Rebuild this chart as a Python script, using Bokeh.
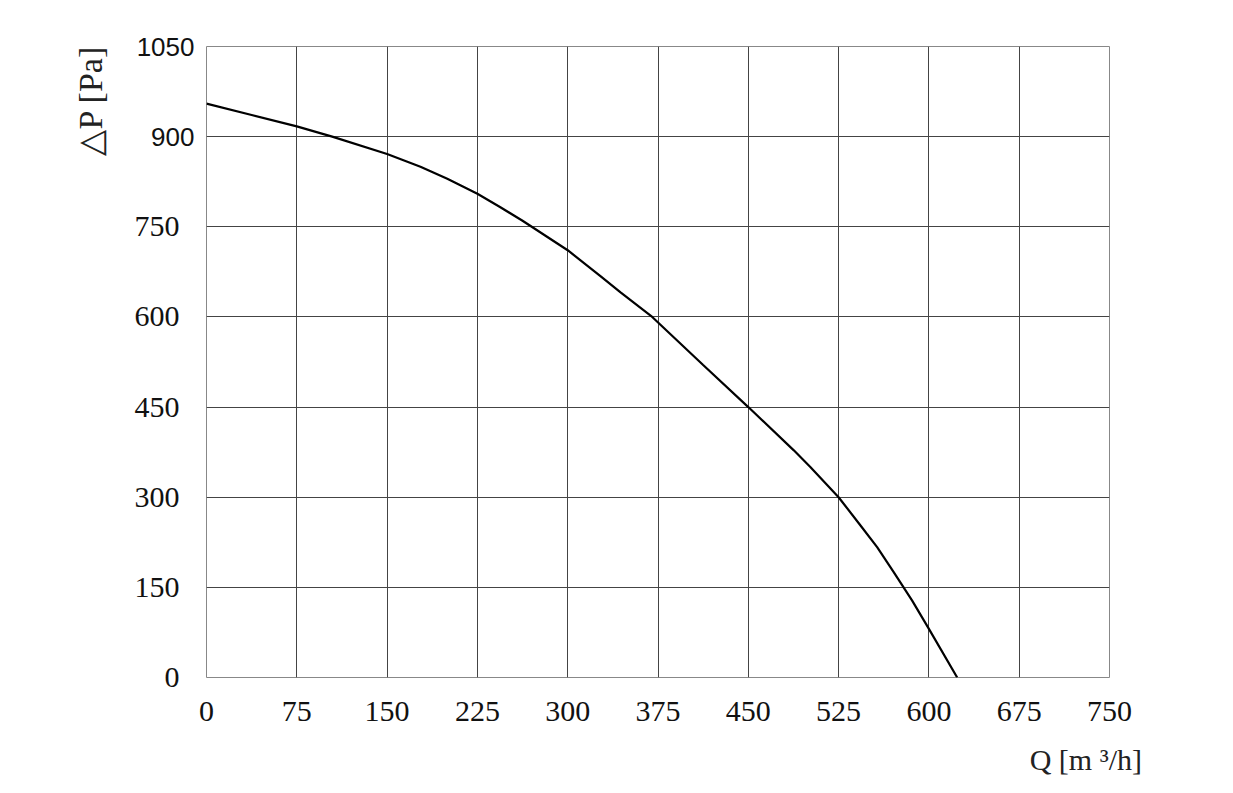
from bokeh.plotting import figure
from bokeh.models import FixedTicker, Range1d, LinearAxis, Title
from bokeh.embed import file_html
from bokeh.resources import INLINE

# ---- data ----
flow_q = [0, 37.5, 75, 104.4, 150, 177.7, 200, 225, 243.75, 262.5, 300, 327.2,
          343.9, 370.2, 412.5, 450, 487.8, 501.7, 525, 543.2, 557, 570.9,
          586.1, 600, 623.5]
pressure_p = [955, 936, 917, 900, 871, 850, 830, 805, 783, 760, 711, 668,
              641, 600, 520, 450, 378, 350, 300, 253, 217, 175,
              128, 81, 0]

x_ticks = [0, 75, 150, 225, 300, 375, 450, 525, 600, 675, 750]
y_ticks_serif = [0, 150, 300, 450, 600, 750]
y_ticks_sans = [900, 1050]
y_ticks_all = y_ticks_serif + y_ticks_sans

x_label = "Q [m  \u00b3/h]"
y_label = "\u25b3P   [Pa]"

SERIF = "Liberation Serif"
SANS = "Liberation Sans"

W, H = 1217, 793
p = figure(width=W, height=H, output_backend="svg", toolbar_location=None,
           x_range=Range1d(0, 750), y_range=Range1d(0, 1050),
           min_border_left=206, min_border_top=46,
           min_border_right=W - 1109, min_border_bottom=H - 677)

p.background_fill_color = "white"
p.border_fill_color = "white"
p.outline_line_color = "#888888"
p.outline_line_width = 1

def style_axis(ax, font, size):
    ax.axis_line_color = None
    ax.major_tick_line_color = None
    ax.minor_tick_line_color = None
    ax.major_tick_out = 0
    ax.major_tick_in = 0
    ax.major_label_text_font = font
    ax.major_label_text_font_size = size
    ax.major_label_text_color = "#111111"

style_axis(p.xaxis[0], SERIF, "30px")
style_axis(p.yaxis[0], SERIF, "30px")
p.xaxis.ticker = FixedTicker(ticks=x_ticks)
p.yaxis.ticker = FixedTicker(ticks=y_ticks_serif)
p.xaxis.major_label_standoff = 24
p.yaxis.major_label_standoff = 27

# second left axis for the upper two tick values (sans-serif in the reference)
ax2 = LinearAxis(ticker=FixedTicker(ticks=y_ticks_sans))
style_axis(ax2, SANS, "26px")
ax2.major_label_standoff = -63
p.add_layout(ax2, "left")

# grid
p.xgrid.ticker = FixedTicker(ticks=x_ticks)
p.ygrid.ticker = FixedTicker(ticks=y_ticks_all)
p.xgrid.grid_line_color = "#444444"
p.ygrid.grid_line_color = "#444444"
p.xgrid.grid_line_width = 1
p.ygrid.grid_line_width = 1

# curve
p.line(flow_q, pressure_p, line_color="black", line_width=2.2)

# axis titles
p.add_layout(Title(text=y_label, align="right", offset=-18, standoff=46,
                   text_font=SERIF, text_font_size="34px", text_font_style="normal",
                   text_color="#222222"), "left")
p.add_layout(Title(text=x_label, align="right", offset=-40, standoff=35,
                   text_font=SERIF, text_font_size="30px", text_font_style="normal",
                   text_color="#222222"), "below")

open("out.html", "w").write(file_html(p, INLINE))
